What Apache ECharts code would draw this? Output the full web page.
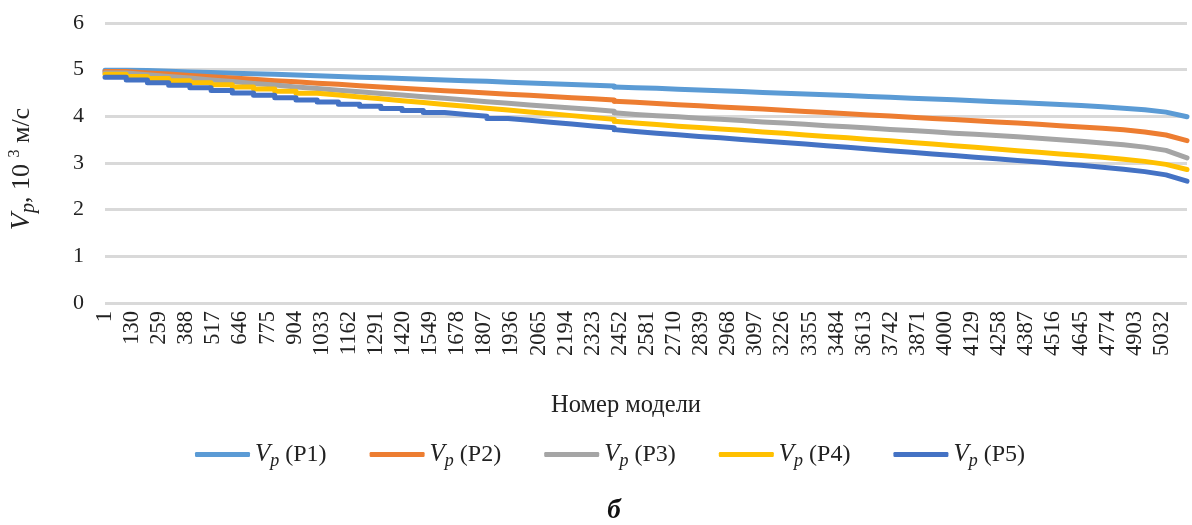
<!DOCTYPE html>
<html>
<head>
<meta charset="utf-8">
<script src="https://cdn.jsdelivr.net/npm/echarts@6/dist/echarts.min.js"></script>
<style>html,body{margin:0;padding:0;background:#fff}#c{width:1192px;height:525px}</style>
</head>
<body>
<div id="c"></div>
<script>
// Model numbers 1..5151 (51 groups of 101 models)
const MODEL_COUNT = 5151;
const GROUP_SIZE = 101;
const LABEL_STEP = 129;
const categories = Array.from({length: MODEL_COUNT}, (_, i) => String(i + 1));
const seriesNames = ['P1', 'P2', 'P3', 'P4', 'P5'];
const seriesColors = ['#5B9BD5', '#ED7D31', '#A5A5A5', '#FFC000', '#4472C4'];
const yTicks = [0, 1, 2, 3, 4, 5, 6];

// Vp (10^3 m/s) at the first model of each group (groups 0..50), last value = model 5151
const vpP1 = [4.99,4.98,4.965,4.95,4.94,4.925,4.91,4.90,4.885,4.87,4.855,4.84,4.825,4.81,4.795,4.78,4.765,4.75,4.73,4.715,4.70,4.68,4.665,4.65,4.63,4.615,4.60,4.58,4.565,4.55,4.53,4.51,4.495,4.48,4.46,4.445,4.425,4.41,4.39,4.37,4.355,4.335,4.315,4.295,4.275,4.255,4.23,4.205,4.175,4.14,4.09,3.99];
const vpP2 = [4.96,4.93,4.905,4.875,4.85,4.82,4.795,4.765,4.74,4.71,4.685,4.655,4.63,4.60,4.575,4.55,4.525,4.50,4.475,4.45,4.425,4.40,4.375,4.35,4.325,4.30,4.275,4.25,4.225,4.20,4.18,4.155,4.13,4.105,4.08,4.055,4.03,4.005,3.98,3.955,3.93,3.905,3.88,3.855,3.83,3.80,3.77,3.745,3.71,3.665,3.60,3.48];
const vpP3 = [4.93,4.89,4.855,4.82,4.78,4.745,4.705,4.67,4.63,4.595,4.56,4.525,4.49,4.455,4.42,4.385,4.35,4.315,4.28,4.245,4.21,4.18,4.145,4.11,4.075,4.04,4.015,3.99,3.96,3.935,3.91,3.88,3.855,3.83,3.80,3.775,3.75,3.72,3.695,3.67,3.64,3.615,3.59,3.56,3.53,3.50,3.465,3.43,3.39,3.34,3.27,3.11];
const vpP4 = [4.90,4.855,4.81,4.765,4.72,4.675,4.63,4.585,4.54,4.495,4.455,4.415,4.375,4.335,4.295,4.255,4.215,4.175,4.135,4.095,4.055,4.015,3.975,3.935,3.895,3.855,3.825,3.79,3.76,3.73,3.70,3.665,3.635,3.60,3.57,3.54,3.505,3.475,3.44,3.405,3.37,3.335,3.30,3.265,3.23,3.195,3.16,3.125,3.08,3.035,2.97,2.86];
const vpP5 = [4.84,4.78,4.72,4.665,4.61,4.555,4.50,4.45,4.40,4.35,4.305,4.26,4.215,4.17,4.125,4.08,4.04,4.00,3.955,3.915,3.875,3.835,3.795,3.755,3.715,3.675,3.64,3.605,3.57,3.54,3.505,3.47,3.44,3.405,3.37,3.335,3.30,3.265,3.23,3.195,3.16,3.125,3.09,3.055,3.02,2.985,2.95,2.91,2.865,2.815,2.745,2.61];
const allValues = [vpP1, vpP2, vpP3, vpP4, vpP5];
// groups drawn as visible staircase (first part of the chart)
const STEP_GROUPS = 24;

function idxOf(k) { return Math.min(k * GROUP_SIZE, MODEL_COUNT - 1); }

const series = [];
allValues.forEach((vals, s) => {
  const name = 'Vp (' + seriesNames[s] + ')';
  const stepData = [];
  for (let k = 0; k <= STEP_GROUPS; k++) stepData.push([idxOf(k), vals[k]]);
  const lineData = [];
  for (let k = STEP_GROUPS; k < vals.length; k++) lineData.push([idxOf(k), vals[k]]);
  const common = {
    name: name, type: 'line', showSymbol: false, symbol: 'none',
    color: seriesColors[s], animation: false,
    lineStyle: {width: 5, color: seriesColors[s], cap: 'round', join: 'round'},
    z: 2 + s
  };
  series.push(Object.assign({}, common, {data: stepData, step: 'end'}));
  series.push(Object.assign({}, common, {data: lineData}));
});

const serif = 'Liberation Serif';
const ink = '#222';
const chart = echarts.init(document.getElementById('c'), null, {renderer: 'canvas'});
chart.setOption({
  backgroundColor: '#ffffff',
  animation: false,
  grid: {left: 105, right: 5, top: 23, bottom: 222, containLabel: false, outerBoundsMode: 'none'},
  title: {
    text: 'б', left: 609, top: 493, textAlign: 'center',
    textStyle: {fontFamily: serif, fontStyle: 'italic', fontWeight: 'bold', fontSize: 27, color: '#111'}
  },
  legend: {
    data: seriesNames.map(n => 'Vp (' + n + ')'),
    left: 190, top: 437,
    itemWidth: 55, itemHeight: 5, itemGap: 43, icon: 'roundRect',
    formatter: function (n) { return '{i|V}{s|p}{t| ' + n.slice(3) + '}'; },
    textStyle: {
      fontFamily: serif, fontSize: 24, color: ink,
      rich: {
        i: {fontFamily: serif, fontStyle: 'italic', fontSize: 25, color: ink},
        s: {fontFamily: serif, fontStyle: 'italic', fontSize: 18, color: ink, padding: [13, 0, 0, 0]},
        t: {fontFamily: serif, fontSize: 24, color: ink}
      }
    }
  },
  xAxis: {
    type: 'category', data: categories, boundaryGap: false,
    name: 'Номер модели', nameLocation: 'middle', nameGap: 90,
    nameTextStyle: {fontFamily: serif, fontSize: 24.5, color: ink, padding: [0, 40, 0, 0]},
    axisLine: {show: false}, axisTick: {show: false},
    axisLabel: {interval: LABEL_STEP - 1, rotate: 90, fontFamily: serif, fontSize: 22.5, color: ink, margin: 8},
    splitLine: {show: false}
  },
  yAxis: {
    type: 'value', min: yTicks[0], max: yTicks[yTicks.length - 1], interval: 1,
    name: '{i|V}{s|p}{t|, 10 }{u|3}{t| м/с}', nameLocation: 'middle', nameGap: 66, nameRotate: 90,
    nameTextStyle: {
      fontFamily: serif, fontSize: 26, color: ink, padding: [0, 12, 0, 0],
      rich: {
        i: {fontFamily: serif, fontStyle: 'italic', fontSize: 28, color: ink},
        s: {fontFamily: serif, fontStyle: 'italic', fontSize: 20, color: ink, padding: [14, 0, 0, 0]},
        t: {fontFamily: serif, fontSize: 26, color: ink},
        u: {fontFamily: serif, fontSize: 16, color: ink, padding: [0, 0, 14, 0]}
      }
    },
    axisLine: {show: false}, axisTick: {show: false},
    axisLabel: {fontFamily: serif, fontSize: 22, color: ink, margin: 21},
    splitLine: {lineStyle: {color: '#d9d9d9', width: 3}}
  },
  series: series
});
</script>
</body>
</html>
